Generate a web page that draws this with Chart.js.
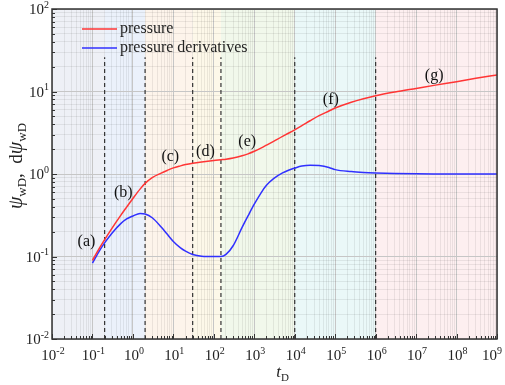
<!DOCTYPE html>
<html>
<head>
<meta charset="utf-8">
<script src="https://cdn.jsdelivr.net/npm/chart.js@4.4.1/dist/chart.umd.min.js"></script>
<style>
  html, body { margin: 0; padding: 0; background: #fff; }
  #wrap { width: 505px; height: 385px; }
</style>
</head>
<body>
<div id="wrap"><canvas id="chart"></canvas></div>
<script>
// dimensionless time and the two responses
const tD = [0.1, 0.15, 0.2, 0.3, 0.5, 0.7, 1, 1.5, 2, 3, 5, 7, 10, 15, 20, 30, 50, 100, 150, 200, 300, 500, 700,
            1000, 1500, 2000, 3000, 5000, 7000, 1e4, 1.5e4, 2.4e4, 4e4, 7e4, 1e5, 2.5e5, 5e5, 1e6, 3e6, 1e7, 3e7, 1e8, 3e8, 1e9];
const pressure = [0.09, 0.127, 0.16, 0.218, 0.315, 0.397, 0.505, 0.656, 0.769, 0.904, 1.026, 1.104, 1.186, 1.255, 1.3, 1.35,
                  1.4, 1.46, 1.49, 1.512, 1.563, 1.663, 1.754, 1.884, 2.075, 2.237, 2.49, 2.86, 3.12, 3.43, 3.85, 4.42,
                  5.1, 5.8, 6.3, 7.41, 8.17, 8.87, 9.85, 10.9, 11.95, 13.15, 14.45, 15.9];
const derivative = [0.083, 0.118, 0.146, 0.19, 0.25, 0.285, 0.31, 0.333, 0.328, 0.295, 0.228, 0.187, 0.152, 0.127, 0.116, 0.106,
                    0.101, 0.1, 0.1, 0.106, 0.135, 0.225, 0.31, 0.43, 0.6, 0.73, 0.88, 1.03, 1.11, 1.18, 1.25, 1.28,
                    1.265, 1.2, 1.13, 1.07, 1.045, 1.03, 1.015, 1.006, 1.002, 1.0, 1.0, 1.0];

// flow regimes
const stageEdges = [0.01, 0.2, 2, 30, 150, 1e4, 1e6, 1e9];
const stageColors = ['#eef0f6', '#ebf1fb', '#fdf4eb', '#fdf8e9', '#f1f8eb', '#eaf8f8', '#fdeff0'];
const dividers = [0.2, 2, 30, 150, 1e4, 1e6];
const dividerTop = 26;
const stageNames = ['(a)', '(b)', '(c)', '(d)', '(e)', '(f)', '(g)'];
const stageNameT = [0.071, 0.58, 8.4, 62, 670, 7.8e4, 2.8e7];
const stageNameV = [0.15, 0.6, 1.6, 1.85, 2.48, 7.9, 15.5];

const xExp = [-2, -1, 0, 1, 2, 3, 4, 5, 6, 7, 8, 9];
const yExp = [-2, -1, 0, 1, 2];

const SERIF = '"Liberation Serif", "Times New Roman", serif';

const logTicks = (exps) => {
    const out = [];
    for (let i = 0; i < exps.length - 1; i++) {
        for (let m = 1; m < 10; m++) out.push({ value: m * Math.pow(10, exps[i]) });
    }
    out.push({ value: Math.pow(10, exps[exps.length - 1]) });
    return out;
};
const isDecade = (v) => Math.abs(Math.log10(v) - Math.round(Math.log10(v))) < 1e-6;

const gridColor = (ctx) => isDecade(ctx.tick.value) ? '#c6c6c6' : 'rgba(0,0,0,0.07)';

function drawPower(ctx, exp, x, y, align, size, maxRight) {
    ctx.font = `${size}px ${SERIF}`;
    const wb = ctx.measureText('10').width;
    const supSize = Math.round(size * 0.66);
    ctx.font = `${supSize}px ${SERIF}`;
    const sup = String(exp);
    const ws = ctx.measureText(sup).width;
    let left = align === 'center' ? x - (wb + ws) / 2 : x - (wb + ws);
    if (maxRight && left + wb + ws > maxRight) left = maxRight - wb - ws;
    ctx.textAlign = 'left';
    ctx.textBaseline = 'alphabetic';
    ctx.font = `${size}px ${SERIF}`;
    ctx.fillText('10', left, y);
    ctx.font = `${supSize}px ${SERIF}`;
    ctx.fillText(sup, left + wb, y - size * 0.42);
}

// pieces of text with subscripts: [text, size, italic, dy]
function drawRuns(ctx, runs, x, y, measureOnly) {
    let cx = x;
    runs.forEach(([txt, size, italic, dy]) => {
        ctx.font = `${italic ? 'italic ' : ''}${size}px ${SERIF}`;
        if (!measureOnly) ctx.fillText(txt, cx, y + dy);
        cx += ctx.measureText(txt).width;
    });
    return cx - x;
}

const decorPlugin = {
    id: 'decor',
    beforeDraw(chart) {
        const { ctx, chartArea: a, scales: { x, y } } = chart;
        ctx.save();
        for (let i = 0; i < stageColors.length; i++) {
            const x0 = x.getPixelForValue(stageEdges[i]);
            const x1 = x.getPixelForValue(stageEdges[i + 1]);
            ctx.fillStyle = stageColors[i];
            ctx.fillRect(x0, a.top, x1 - x0, a.bottom - a.top);
        }
        ctx.restore();
    },
    afterDraw(chart) {
        const { ctx, chartArea: a, scales: { x, y } } = chart;
        ctx.save();

        // frame
        ctx.strokeStyle = '#333';
        ctx.lineWidth = 1.5;
        ctx.strokeRect(a.left, a.top, a.right - a.left, a.bottom - a.top);

        // inward tick marks
        ctx.lineWidth = 1;
        ctx.strokeStyle = '#333';
        ctx.beginPath();
        x.ticks.forEach(t => {
            const px = Math.round(x.getPixelForValue(t.value)) + 0.5;
            const len = isDecade(t.value) ? 5 : 3;
            ctx.moveTo(px, a.bottom);
            ctx.lineTo(px, a.bottom - len);
        });
        y.ticks.forEach(t => {
            const py = Math.round(y.getPixelForValue(t.value)) + 0.5;
            const len = isDecade(t.value) ? 5 : 3;
            ctx.moveTo(a.left, py);
            ctx.lineTo(a.left + len, py);
        });
        ctx.stroke();

        // tick labels
        ctx.fillStyle = '#222';
        xExp.forEach(e => drawPower(ctx, e, x.getPixelForValue(Math.pow(10, e)) + 1, a.bottom + 21, 'center', 15, chart.width - 3));
        yExp.forEach(e => drawPower(ctx, e, a.left - 3, y.getPixelForValue(Math.pow(10, e)) + 5, 'right', 15));

        // axis titles
        ctx.textAlign = 'left';
        ctx.textBaseline = 'alphabetic';
        const xRuns = [['t', 17, true, 0], ['D', 11, false, 4]];
        const xw = drawRuns(ctx, xRuns, 0, 0, true);
        drawRuns(ctx, xRuns, (a.left + a.right) / 2 + 8 - xw / 2, a.bottom + 38, false);

        const yRuns = [['\u03c8', 20, true, 0], ['wD', 13, false, 4], [',', 19, false, 0],
                       ['  d', 19, false, 0], ['\u03c8', 20, true, 0], ['wD', 13, false, 4]];
        const yw = drawRuns(ctx, yRuns, 0, 0, true);
        ctx.translate(22, 166);
        ctx.rotate(-Math.PI / 2);
        drawRuns(ctx, yRuns, -yw / 2, 0, false);
        ctx.setTransform(1, 0, 0, 1, 0, 0);

        // regime labels
        ctx.font = `16px ${SERIF}`;
        ctx.textAlign = 'center';
        ctx.textBaseline = 'middle';
        ctx.fillStyle = '#111';
        stageNames.forEach((s, i) => {
            ctx.fillText(s, x.getPixelForValue(stageNameT[i]), y.getPixelForValue(stageNameV[i]));
        });

        // legend
        const items = chart.data.datasets.filter(d => d.legend);
        items.forEach((d, i) => {
            const ly = a.top + 20 + i * 19;
            ctx.strokeStyle = d.borderColor;
            ctx.lineWidth = 1.5;
            ctx.beginPath();
            ctx.moveTo(a.left + 30, ly);
            ctx.lineTo(a.left + 65, ly);
            ctx.stroke();
            ctx.fillStyle = '#222';
            ctx.font = `16px ${SERIF}`;
            ctx.textAlign = 'left';
            ctx.textBaseline = 'middle';
            ctx.fillText(d.label, a.left + 68, ly);
        });

        ctx.restore();
    }
};

const toPoints = (ys) => tD.map((t, i) => ({ x: t, y: ys[i] }));

const dividerSets = dividers.map(t => ({
    label: 'divider',
    data: [{ x: t, y: 0.01 }, { x: t, y: dividerTop }],
    borderColor: '#333',
    borderWidth: 1.2,
    borderDash: [4, 3],
    pointRadius: 0,
    fill: false
}));

new Chart(document.getElementById('chart').getContext('2d'), {
    type: 'line',
    data: {
        datasets: [
            {
                label: 'pressure',
                legend: true,
                data: toPoints(pressure),
                borderColor: '#ff3535',
                borderWidth: 1.5,
                pointRadius: 0,
                cubicInterpolationMode: 'monotone'
            },
            {
                label: 'pressure derivatives',
                legend: true,
                data: toPoints(derivative),
                borderColor: '#3030ff',
                borderWidth: 1.5,
                pointRadius: 0,
                cubicInterpolationMode: 'monotone'
            },
            ...dividerSets
        ]
    },
    options: {
        responsive: true,
        maintainAspectRatio: false,
        animation: false,
        layout: { padding: { top: 9, right: 8, left: 0, bottom: 0 } },
        plugins: {
            legend: { display: false },
            tooltip: { enabled: false }
        },
        scales: {
            x: {
                type: 'logarithmic',
                min: 0.01,
                max: 1e9,
                afterBuildTicks: (s) => { s.ticks = logTicks(xExp); },
                afterFit: (s) => { s.height = 46; },
                ticks: { display: false },
                border: { display: false },
                grid: { color: gridColor, drawTicks: false, lineWidth: 1 }
            },
            y: {
                type: 'logarithmic',
                min: 0.01,
                max: 100,
                afterBuildTicks: (s) => { s.ticks = logTicks(yExp); },
                afterFit: (s) => { s.width = 52; },
                ticks: { display: false },
                border: { display: false },
                grid: { color: gridColor, drawTicks: false, lineWidth: 1 }
            }
        }
    },
    plugins: [decorPlugin]
});
</script>
</body>
</html>
